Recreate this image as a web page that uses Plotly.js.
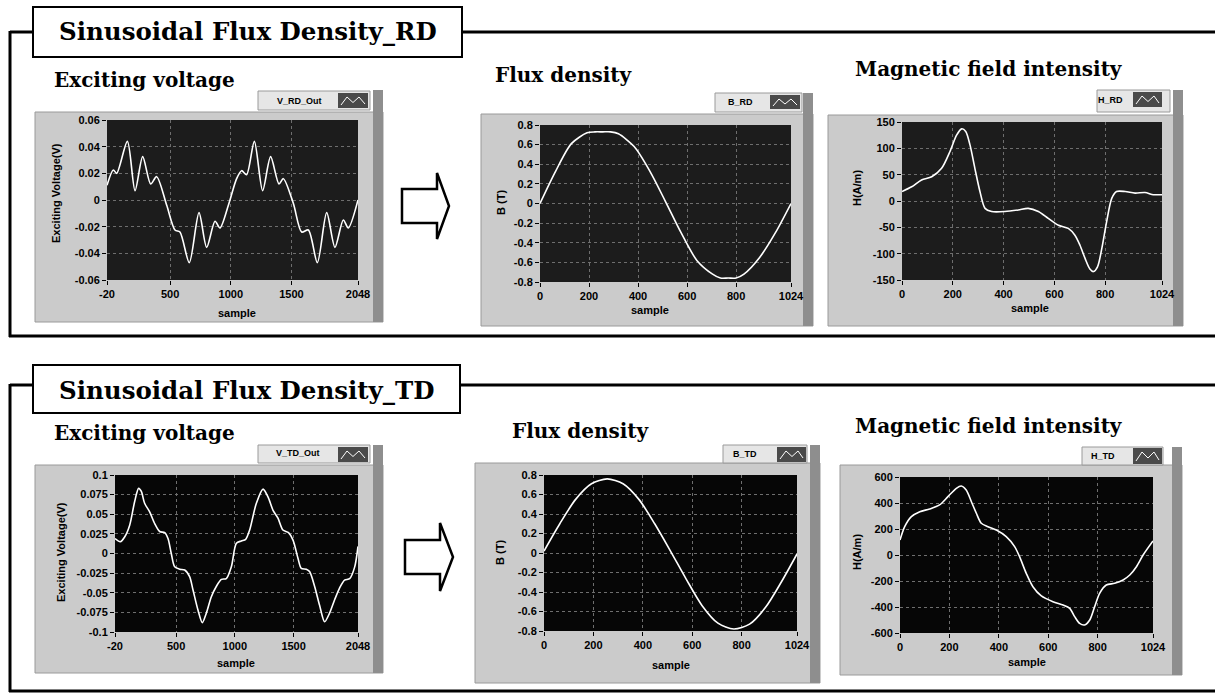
<!DOCTYPE html>
<html>
<head>
<meta charset="utf-8">
<script src="https://cdn.plot.ly/plotly-3.0.1.min.js"></script>
<style>html,body{margin:0;padding:0;background:#fff;}#chart{width:1215px;height:693px;}</style>
</head>
<body>
<div id="chart"></div>
<script>
// ---------- data ----------
const vRdX = [-20,32,60,148,211,274,340,389,472,540,581,658,738,801,870,911,980,1048,1089,1130,1194,1262,1328,1397,1433,1515,1584,1639,1713,1790,1858,1927,1968,2048];
const vRdY = [0.011,0.0225,0.02,0.044,0.007,0.0325,0.012,0.0175,-0.004,-0.0225,-0.024,-0.047,-0.0095,-0.0355,-0.016,-0.021,-0.004,0.016,0.022,0.019,0.044,0.007,0.0325,0.012,0.016,-0.0025,-0.024,-0.0225,-0.047,-0.0095,-0.0355,-0.015,-0.021,0];

const bRdX = [0,64,128,192,224,256,288,320,384,448,512,576,640,704,736,768,800,832,896,960,1024];
const bRdY = [0,0.33,0.61,0.72,0.73,0.73,0.73,0.71,0.58,0.33,0.02,-0.3,-0.58,-0.72,-0.76,-0.76,-0.76,-0.72,-0.55,-0.3,0];

const hRdX = [0,38,77,117,156,189,215,235,251,268,287,307,327,353,405,458,497,537,576,616,655,681,701,721,740,754,770,787,806,826,845,879,918,957,990,1024];
const hRdY = [18,27,40,46,62,94,125,137,132,106,62,18,-14,-20,-20,-17,-14,-20,-33,-46,-52,-65,-84,-109,-129,-134,-125,-90,-39,5,18,18,15,16,12,12];

const vTdX = [-20,25,62,105,147,181,204,232,275,318,360,403,431,459,488,530,573,615,644,686,723,757,800,842,885,927,970,1013,1055,1092,1126,1183,1240,1282,1325,1367,1409,1457,1495,1537,1565,1608,1636,1679,1721,1764,1806,1849,1891,1934,1977,2020,2048];
const vTdY = [0.019,0.015,0.021,0.036,0.066,0.083,0.079,0.064,0.053,0.038,0.028,0.0265,0.019,0,-0.017,-0.020,-0.021,-0.0295,-0.0465,-0.072,-0.088,-0.076,-0.055,-0.042,-0.033,-0.032,-0.017,0.013,0.016,0.018,0.03,0.064,0.082,0.072,0.055,0.045,0.03,0.0265,0.017,-0.006,-0.019,-0.020,-0.023,-0.042,-0.066,-0.087,-0.076,-0.059,-0.044,-0.034,-0.032,-0.017,0.009];

const bTdX = [0,64,128,192,256,320,384,448,512,576,640,704,768,832,896,960,1024];
const bTdY = [0.02,0.3,0.55,0.71,0.76,0.71,0.55,0.3,0.02,-0.27,-0.54,-0.72,-0.78,-0.73,-0.56,-0.3,-0.01];

const hTdX = [0,19,46,80,120,160,194,228,248,268,289,309,329,356,390,430,464,484,511,538,572,619,660,687,707,727,747,768,788,808,835,869,903,930,957,984,1024];
const hTdY = [115,218,295,333,354,385,449,513,531,500,410,321,244,218,192,141,64,-13,-141,-244,-315,-359,-385,-410,-474,-526,-538,-500,-397,-295,-231,-218,-192,-154,-90,0,108];

// tick labels
const xTicksV = [-20,500,1000,1500,2048];
const xTicksVText = ['-20','500','1000','1500','2048'];
const xTicksS = [0,200,400,600,800,1024];
const xTicksSText = ['0','200','400','600','800','1024'];
const yTicksVrd = [0.06,0.04,0.02,0,-0.02,-0.04,-0.06];
const yTicksVrdText = ['0.06','0.04','0.02','0','-0.02','-0.04','-0.06'];
const yTicksB = [0.8,0.6,0.4,0.2,0,-0.2,-0.4,-0.6,-0.8];
const yTicksBText = ['0.8','0.6','0.4','0.2','0','-0.2','-0.4','-0.6','-0.8'];
const yTicksHrd = [150,100,50,0,-50,-100,-150];
const yTicksHrdText = ['150','100','50','0','-50','-100','-150'];
const yTicksVtd = [0.1,0.075,0.05,0.025,0,-0.025,-0.05,-0.075,-0.1];
const yTicksVtdText = ['0.1','0.075','0.05','0.025','0','-0.025','-0.05','-0.075','-0.1'];
const yTicksHtd = [600,400,200,0,-200,-400,-600];
const yTicksHtdText = ['600','400','200','0','-200','-400','-600'];

const sectionTitles = ['Sinusoidal Flux Density_RD','Sinusoidal Flux Density_TD'];
const plotTitles = ['Exciting voltage','Flux density','Magnetic field intensity'];
const legendNames = ['V_RD_Out','B_RD','H_RD','V_TD_Out','B_TD','H_TD'];
const yTitles = ['Exciting Voltage(V)','B (T)','H(A/m)'];
const xTitle = 'sample';

// ---------- layout helpers ----------
const W = 1215, H = 693;
const X = p => p / W;
const Y = p => 1 - p / H;

const tickFont = {family:'Liberation Sans Narrow, Liberation Sans, Arial', size:11, color:'#000', weight:'bold'};
const serif = 'DejaVu Serif, Liberation Serif, serif';

function xa(l, r, anchor, vals, text, range) {
  return {domain:[X(l), X(r)], anchor:anchor, range:range, tickvals:vals, ticktext:text,
    ticks:'outside', ticklen:4, tickcolor:'#000', tickfont:tickFont,
    showgrid:true, gridcolor:'#6e6e6e', griddash:'dot', gridwidth:1,
    zeroline:false, showline:false, fixedrange:true};
}
function ya(t, b, anchor, vals, text, range) {
  return {domain:[Y(b), Y(t)], anchor:anchor, range:range, tickvals:vals, ticktext:text,
    ticks:'outside', ticklen:4, tickcolor:'#000', tickfont:tickFont,
    showgrid:true, gridcolor:'#6e6e6e', griddash:'dot', gridwidth:1,
    zeroline:false, showline:false, fixedrange:true};
}

const plots = [
  {l:107, r:358, t:120, b:280, bg:'#1c1c1c'},
  {l:540, r:791, t:125, b:282, bg:'#1c1c1c'},
  {l:902, r:1162, t:122, b:280, bg:'#1c1c1c'},
  {l:115, r:358, t:475, b:632, bg:'#060606'},
  {l:544, r:797, t:475, b:631, bg:'#060606'},
  {l:900, r:1153, t:477, b:633, bg:'#060606'}
];

const layout = {
  width:W, height:H, margin:{l:0,r:0,t:0,b:0},
  paper_bgcolor:'#ffffff', plot_bgcolor:'rgba(0,0,0,0)',
  showlegend:false,
  font:{family:'Liberation Sans, Arial', color:'#000'},
  xaxis:  xa(plots[0].l, plots[0].r, 'y',  xTicksV, xTicksVText, [-20,2048]),
  yaxis:  ya(plots[0].t, plots[0].b, 'x',  yTicksVrd, yTicksVrdText, [-0.06,0.06]),
  xaxis2: xa(plots[1].l, plots[1].r, 'y2', xTicksS, xTicksSText, [0,1024]),
  yaxis2: ya(plots[1].t, plots[1].b, 'x2', yTicksB, yTicksBText, [-0.8,0.8]),
  xaxis3: xa(plots[2].l, plots[2].r, 'y3', xTicksS, xTicksSText, [0,1024]),
  yaxis3: ya(plots[2].t, plots[2].b, 'x3', yTicksHrd, yTicksHrdText, [-150,150]),
  xaxis4: xa(plots[3].l, plots[3].r, 'y4', xTicksV, xTicksVText, [-20,2048]),
  yaxis4: ya(plots[3].t, plots[3].b, 'x4', yTicksVtd, yTicksVtdText, [-0.1,0.1]),
  xaxis5: xa(plots[4].l, plots[4].r, 'y5', xTicksS, xTicksSText, [0,1024]),
  yaxis5: ya(plots[4].t, plots[4].b, 'x5', yTicksB, yTicksBText, [-0.8,0.8]),
  xaxis6: xa(plots[5].l, plots[5].r, 'y6', xTicksS, xTicksSText, [0,1024]),
  yaxis6: ya(plots[5].t, plots[5].b, 'x6', yTicksHtd, yTicksHtdText, [-600,600]),
  shapes:[], annotations:[]
};

const S = layout.shapes, A = layout.annotations;
function rect(x0,y0,x1,y1,fill,lc,lw){S.push({type:'rect',xref:'paper',yref:'paper',x0:X(x0),x1:X(x1),y0:Y(y1),y1:Y(y0),fillcolor:fill,line:{color:lc||'rgba(0,0,0,0)',width:lw||0},layer:'below'});}
function line(x0,y0,x1,y1,lw,col){S.push({type:'line',xref:'paper',yref:'paper',x0:X(x0),x1:X(x1),y0:Y(y0),y1:Y(y1),line:{color:col||'#000',width:lw},layer:'below'});}
function path(pts,fill,lw){let d=pts.map((p,i)=>(i?'L':'M')+X(p[0]).toFixed(5)+','+Y(p[1]).toFixed(5)).join(' ')+' Z';S.push({type:'path',xref:'paper',yref:'paper',path:d,fillcolor:fill,line:{color:'#000',width:lw},layer:'below'});}
function openPath(pts,col,lw){let d=pts.map((p,i)=>(i?'L':'M')+X(p[0]).toFixed(5)+','+Y(p[1]).toFixed(5)).join(' ');S.push({type:'path',xref:'paper',yref:'paper',path:d,line:{color:col,width:lw},layer:'above'});}
function text(x,y,t,size,fam,opts){A.push(Object.assign({xref:'paper',yref:'paper',x:X(x),y:Y(y),text:t,showarrow:false,xanchor:'left',yanchor:'middle',font:{family:fam,size:size,color:'#000',weight:'bold'}},opts||{}));}

// frames
line(10,32,33,32,3); line(462,32,1215,32,3); line(10,31,10,337,3); line(9,336,1215,336,3);
line(10,385,33,385,3); line(460,385,1215,385,3); line(10,384,10,692,3); line(9,691,1215,691,3);
rect(33,7,462,57,'#ffffff','#000',2);
rect(33,365,460,413,'#ffffff','#000',2);
text(57,31,sectionTitles[0],24.5,serif);
text(57,390,sectionTitles[1],24.5,serif);

// panels
const panels = [
  {l:35,t:112,r:383,b:322, st:90},
  {l:481,t:114,r:813,b:326, st:93},
  {l:828,t:115,r:1183,b:326, st:90},
  {l:35,t:465,r:383,b:673, st:445},
  {l:475,t:463,r:820,b:683, st:445},
  {l:840,t:465,r:1182,b:675, st:447}
];
panels.forEach(p=>{
  rect(p.l,p.t,p.r,p.b,'#cbcbcb','#9a9a9a',1);
  rect(p.r-10,p.st,p.r,p.b,'#8e8e8e');
});
plots.forEach(p=>rect(p.l,p.t,p.r,p.b,p.bg));

// legend boxes
const legs = [
  {l:258,t:91,r:370,b:110, tx:299, ty:101, sw:[338,93,368,108]},
  {l:715,t:93,r:802,b:112, tx:740, ty:102, sw:[770,95,800,109]},
  {l:1097,t:90,r:1170,b:112, tx:1110, ty:100, sw:[1133,92,1162,107]},
  {l:258,t:445,r:370,b:463, tx:298, ty:453, sw:[338,447,368,462]},
  {l:723,t:445,r:807,b:463, tx:745, ty:454, sw:[777,447,806,462]},
  {l:1082,t:447,r:1163,b:465, tx:1103, ty:456, sw:[1133,448,1162,464]}
];
legs.forEach((g,i)=>{
  rect(g.l,g.t,g.r,g.b,'#e6e6e6','#9a9a9a',1);
  rect(g.sw[0],g.sw[1],g.sw[2],g.sw[3],'#4a4a4a');
  const [a,b,c,d]=g.sw, m=(b+d)/2;
  openPath([[a+3,d-3],[a+9,b+4],[a+15,m+2],[a+21,b+4],[c-3,d-4]],'#ffffff',1);
  text(g.tx,g.ty,legendNames[i],9,'Liberation Sans, Arial',{xanchor:'center'});
});

// arrows
path([[402,189],[437,189],[437,173],[449,206],[437,239],[437,223],[402,223]],'#ffffff',2.5);
path([[405,540],[440,540],[440,523],[453,557],[440,591],[440,574],[405,574]],'#ffffff',2.5);

// plot titles
text(52,80,plotTitles[0],20,serif);
text(493,75,plotTitles[1],20,serif);
text(853,69,plotTitles[2],20,serif);
text(52,433,plotTitles[0],20,serif);
text(510,431,plotTitles[1],20,serif);
text(853,426,plotTitles[2],20,serif);

// axis titles
const axFont = 'Liberation Sans, Arial';
[[56,193,0],[501,203,1],[857,188,2],[61,552,0],[500,553,1],[857,552,2]].forEach(a=>{
  text(a[0],a[1],yTitles[a[2]],11,axFont,{xanchor:'center',textangle:-90});
});
[[237,313],[650,310],[1030,308],[236,663],[671,665],[1027,662]].forEach(a=>{
  text(a[0],a[1],xTitle,11,axFont,{xanchor:'center'});
});

// traces
const ln = {color:'#ffffff', width:1.6, shape:'spline', smoothing:0.8};
const data = [
  {x:vRdX, y:vRdY, xaxis:'x',  yaxis:'y',  type:'scatter', mode:'lines', line:ln, name:legendNames[0]},
  {x:bRdX, y:bRdY, xaxis:'x2', yaxis:'y2', type:'scatter', mode:'lines', line:ln, name:legendNames[1]},
  {x:hRdX, y:hRdY, xaxis:'x3', yaxis:'y3', type:'scatter', mode:'lines', line:ln, name:legendNames[2]},
  {x:vTdX, y:vTdY, xaxis:'x4', yaxis:'y4', type:'scatter', mode:'lines', line:ln, name:legendNames[3]},
  {x:bTdX, y:bTdY, xaxis:'x5', yaxis:'y5', type:'scatter', mode:'lines', line:ln, name:legendNames[4]},
  {x:hTdX, y:hTdY, xaxis:'x6', yaxis:'y6', type:'scatter', mode:'lines', line:ln, name:legendNames[5]}
];

Plotly.newPlot('chart', data, layout, {staticPlot:true, displayModeBar:false});
</script>
</body>
</html>
